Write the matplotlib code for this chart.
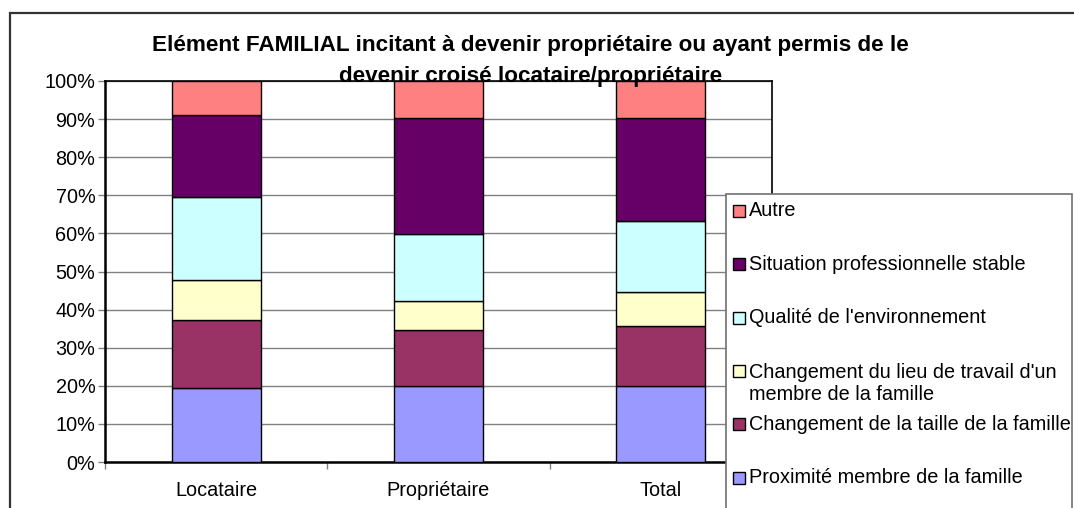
import numpy as np
import matplotlib
matplotlib.use("Agg")
import matplotlib.pyplot as plt
from matplotlib.patches import Rectangle

plt.rcParams['font.family'] = ['Liberation Sans', 'DejaVu Sans']

categories = ["Locataire", "Propriétaire", "Total"]
series_names = ["Proximité membre de la famille",
                "Changement de la taille de la famille",
                "Changement du lieu de travail d'un\nmembre de la famille",
                "Qualité de l'environnement",
                "Situation professionnelle stable",
                "Autre"]
proximite = [19.4, 19.9, 19.9]
taille = [18.0, 14.8, 15.8]
lieu_travail = [10.5, 7.6, 8.9]
qualite = [21.6, 17.6, 18.7]
situation = [21.7, 30.4, 27.1]
autre = [8.8, 9.7, 9.6]
colors = ["#9999FF", "#993366", "#FFFFCC", "#CCFFFF", "#660066", "#FF8080"]

W, H = 1074, 508
fig = plt.figure(figsize=(W / 100, H / 100), dpi=100)

def fx(px):
    return px / W

def fy(py):
    return 1 - py / H

# plot area (pixels): left 105, right 772, top 81, bottom 462
ax = fig.add_axes([fx(105), fy(462), fx(772 - 105), (462 - 81) / H])

values = [proximite, taille, lieu_travail, qualite, situation, autre]
x = np.arange(len(categories))
bottom = np.zeros(len(categories))
for vals, name, col in zip(values, series_names, colors):
    vals = np.array(vals)
    ax.bar(x, vals, 0.4, bottom=bottom, color=col, edgecolor="black",
           linewidth=1, label=name, zorder=3)
    bottom += vals

ax.set_xlim(-0.5, 2.5)
ax.set_ylim(0, 100)
ax.set_yticks(np.arange(0, 101, 10))
ax.set_yticklabels(["%d%%" % v for v in range(0, 101, 10)], fontsize=14.3)
ax.yaxis.grid(True, color="#808080", linewidth=1, zorder=0)
ax.tick_params(axis="y", length=5, width=1, pad=2, color="#808080")

# ticks between the categories, labels under the bars
ax.set_xticks([-0.5, 0.5, 1.5, 2.5])
ax.set_xticklabels([])
ax.tick_params(axis="x", which="major", length=5, width=1, color="#808080")
ax.set_xticks(x, minor=True)
ax.set_xticklabels(categories, minor=True, fontsize=14.3)
ax.tick_params(axis="x", which="minor", length=0, pad=14)

for s in ["left", "bottom"]:
    ax.spines[s].set_linewidth(1.8)
for s in ["top", "right"]:
    ax.spines[s].set_linewidth(1.2)

# outer chart frame
fig.patches.append(Rectangle((fx(10), -0.2), 1.2, fy(13) + 0.2,
                             transform=fig.transFigure, fill=False,
                             edgecolor="#333333", linewidth=1.6))

# title
fig.text(fx(530), fy(51), "Elément FAMILIAL incitant à devenir propriétaire ou ayant permis de le",
         ha="center", va="baseline", fontsize=16.2, fontweight="bold")
fig.text(fx(531), fy(82), "devenir croisé locataire/propriétaire",
         ha="center", va="baseline", fontsize=16.2, fontweight="bold")

# legend box
fig.patches.append(Rectangle((fx(726), -0.2), fx(1072 - 726), fy(194) + 0.2,
                             transform=fig.transFigure, facecolor="white",
                             edgecolor="#707070", linewidth=1.2, zorder=5))
slot0, step = 211, 53.3
for i, (name, col) in enumerate(zip(series_names[::-1], colors[::-1])):
    yc = slot0 + i * step
    fig.patches.append(Rectangle((fx(733), fy(yc + 6)), fx(12), 12 / H,
                                 transform=fig.transFigure, facecolor=col,
                                 edgecolor="black", linewidth=1, zorder=6))
    if "\n" in name:
        fig.text(fx(749), fy(yc - 8), name, ha="left", va="top",
                 fontsize=14.3, zorder=7, linespacing=1.2)
    else:
        fig.text(fx(749), fy(yc), name, ha="left", va="center",
                 fontsize=14.3, zorder=7)

fig.savefig("out.png", dpi=100)
